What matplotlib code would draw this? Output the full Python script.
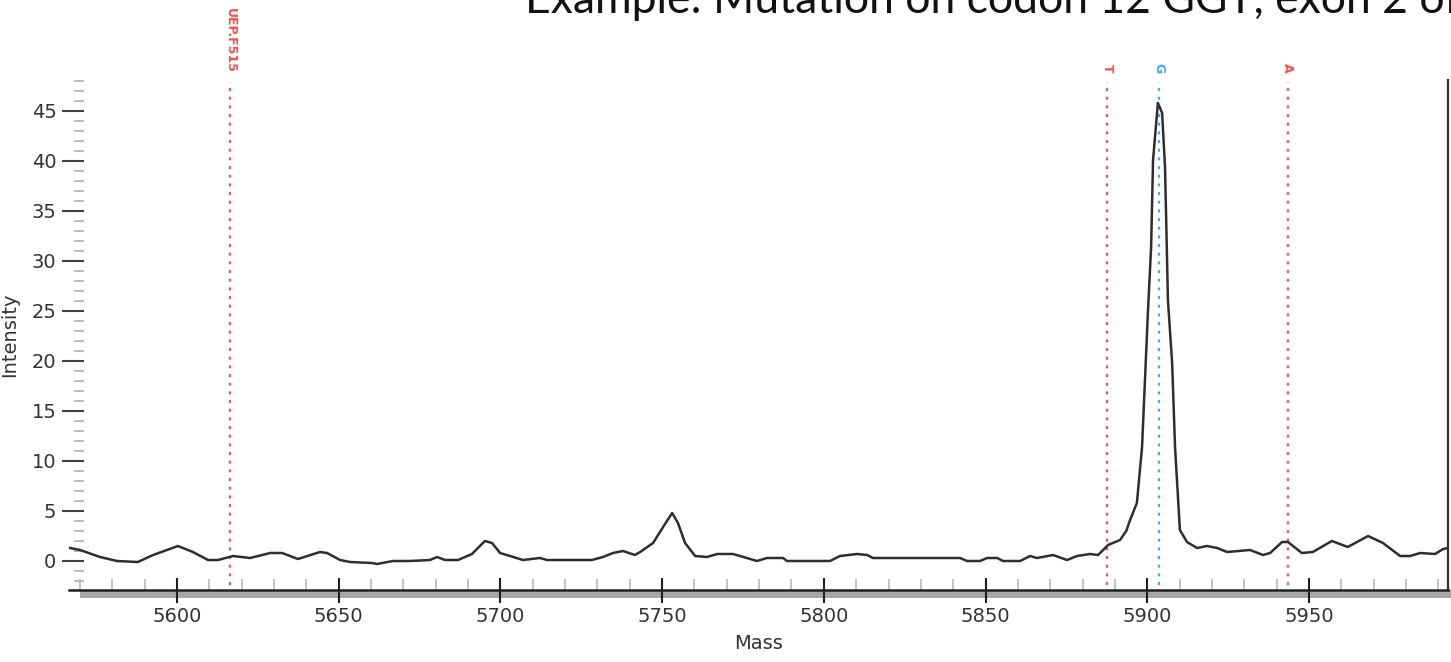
import matplotlib
matplotlib.use('Agg')
import matplotlib.pyplot as plt
from matplotlib.ticker import MultipleLocator
from matplotlib.patches import Rectangle

# spectrum (mass, intensity)
mass = [5566.9, 5570.0, 5576.2, 5581.4, 5587.9, 5592.6, 5600.3, 5604.9, 5609.6, 5612.7,
        5617.3, 5622.6, 5628.8, 5632.5, 5637.4, 5644.2, 5646.4, 5650.4, 5653.5, 5660.3,
        5661.8, 5666.8, 5672.0, 5678.2, 5680.4, 5682.9, 5686.9, 5691.2, 5695.2, 5697.4,
        5699.9, 5703.0, 5707.0, 5712.2, 5714.4, 5728.3, 5731.7, 5734.8, 5737.9, 5741.6,
        5743.2, 5747.2, 5750.3, 5753.1, 5754.9, 5757.1, 5760.2, 5763.9, 5767.0, 5771.9,
        5774.1, 5777.2, 5779.3, 5782.4, 5787.4, 5788.6, 5801.9, 5805.0, 5810.3, 5813.4,
        5815.2, 5842.1, 5844.3, 5848.3, 5850.5, 5853.6, 5855.4, 5860.7, 5863.8, 5865.9,
        5870.9, 5875.2, 5878.3, 5882.3, 5884.8, 5887.9, 5891.6, 5893.5, 5894.7, 5896.8,
        5898.4, 5899.3, 5900.2, 5901.2, 5901.8, 5903.3, 5904.6, 5905.5, 5906.4, 5907.7,
        5908.6, 5910.1, 5912.3, 5915.4, 5918.5, 5921.6, 5924.7, 5931.8, 5935.8, 5938.0,
        5941.7, 5943.5, 5947.8, 5951.2, 5957.1, 5962.0, 5968.3, 5972.9, 5978.2, 5981.3,
        5984.4, 5989.0, 5991.5, 5993.0]
intensity = [1.3, 1.1, 0.4, 0.0, -0.1, 0.6, 1.5, 0.9, 0.1, 0.1,
             0.5, 0.3, 0.8, 0.8, 0.2, 0.9, 0.8, 0.1, -0.1, -0.2,
             -0.3, 0.0, 0.0, 0.1, 0.4, 0.1, 0.1, 0.7, 2.0, 1.8,
             0.8, 0.5, 0.1, 0.3, 0.1, 0.1, 0.4, 0.8, 1.0, 0.6,
             0.9, 1.8, 3.4, 4.8, 3.8, 1.8, 0.5, 0.4, 0.7, 0.7,
             0.5, 0.2, 0.0, 0.3, 0.3, 0.0, 0.0, 0.5, 0.7, 0.6,
             0.3, 0.3, 0.0, 0.0, 0.3, 0.3, 0.0, 0.0, 0.5, 0.3,
             0.6, 0.1, 0.5, 0.7, 0.6, 1.6, 2.1, 3.0, 4.1, 5.8,
             11.4, 18.1, 24.8, 31.4, 40.1, 45.8, 44.8, 39.4, 26.1, 19.8,
             11.4, 3.1, 1.9, 1.3, 1.5, 1.3, 0.9, 1.1, 0.6, 0.8,
             1.9, 1.9, 0.8, 0.9, 2.0, 1.4, 2.5, 1.8, 0.5, 0.5,
             0.8, 0.7, 1.2, 1.3]

# expected peak markers
marker_mass = [5616.4, 5887.6, 5903.7, 5943.5]
marker_text = ['UEP.F515', 'T', 'G', 'A']
marker_color = ['#ff4b4b', '#ff4b4b', '#3fa6f2', '#ff4b4b']

title = 'Example: Mutation on codon 12 GGT, exon 2 of'

fig = plt.figure(figsize=(14.51, 6.62), dpi=100)
ax = fig.add_axes([69 / 1451, 72 / 662, (1448 - 69) / 1451, 510 / 662])

ax.plot(mass, intensity, color='#2e2e2e', lw=1.8, zorder=3)

# dotted marker lines with rotated labels on top
for m, t, c in zip(marker_mass, marker_text, marker_color):
    ax.vlines(m, -2.4, 47.9, colors=c, lw=1.6, linestyles=(0, (1.3, 2.6)), zorder=2)
    ax.text(m, 1.0 + 7 / 510, t, transform=ax.get_xaxis_transform(), rotation=-90,
            ha='center', va='bottom', color=c, fontsize=9, fontweight='bold',
            clip_on=False)

ax.set_xlim(5566.6, 5993.0)
ax.set_ylim(-2.9, 48.1)

# spines
ax.spines['top'].set_visible(False)
ax.spines['left'].set_visible(False)
ax.spines['bottom'].set_linewidth(1.8)
ax.spines['bottom'].set_color('#202020')
ax.spines['right'].set_linewidth(1.6)
ax.spines['right'].set_color('#303030')

# grey band under the x axis
ax.add_patch(Rectangle((11 / 1379, 0.0), 1.0, -8 / 510, transform=ax.transAxes,
                       facecolor='#a8a8a8', edgecolor='none', clip_on=False, zorder=1))

# x ticks
ax.xaxis.set_major_locator(MultipleLocator(50))
ax.xaxis.set_minor_locator(MultipleLocator(10))
ax.tick_params(axis='x', which='major', direction='inout', length=18, width=1.5,
               color='#202020', labelsize=14, labelcolor='#333333', pad=3)
ax.tick_params(axis='x', which='minor', direction='in', length=8, width=1.2,
               color='#b8b8b8')

# y ticks, drawn from a line 11 px inside the axes
ax.spines['left'].set_position(('outward', -11))
ax.yaxis.set_minor_locator(MultipleLocator(1))
ax.set_yticks(range(0, 50, 5))
ax.tick_params(axis='y', which='major', direction='out', length=16, width=1.5,
               color='#404040', labelsize=14, labelcolor='#333333', pad=4)
ax.tick_params(axis='y', which='minor', direction='out', length=7, width=1.2,
               color='#b0b0b0')

ax.set_xlabel('Mass', fontsize=14, color='#333333', labelpad=6)
fig.text(10 / 1451, 1 - 335 / 662, 'Intensity', rotation=90, ha='center', va='center',
         fontsize=14, color='#333333')

fig.text(525 / 1451, 1 - 13 / 662, title, fontsize=32, family='Lato',
         ha='left', va='baseline', color='#111111')

fig.savefig('out.png', dpi=100)
